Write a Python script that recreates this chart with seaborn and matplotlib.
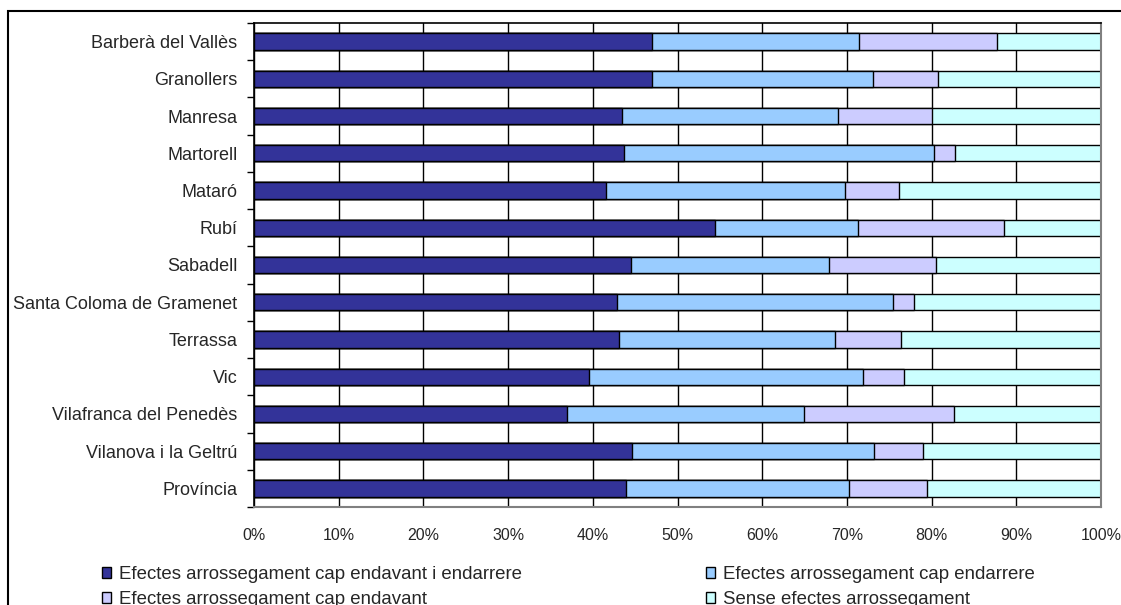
import matplotlib
matplotlib.use("Agg")
import matplotlib.pyplot as plt
from matplotlib.patches import Patch, Rectangle
from matplotlib.ticker import FixedLocator, PercentFormatter
import numpy as np
import pandas as pd
import seaborn as sns

# categories (top to bottom)
municipis = [
    "Barberà del Vallès", "Granollers", "Manresa", "Martorell", "Mataró",
    "Rubí", "Sabadell", "Santa Coloma de Gramenet", "Terrassa", "Vic",
    "Vilafranca del Penedès", "Vilanova i la Geltrú", "Província",
]

# shares in %
cap_endavant_i_endarrere = [47.0, 47.0, 43.5, 43.7, 41.6, 54.4, 44.5, 42.8, 43.1, 39.6, 36.9, 44.6, 43.9]
cap_endarrere = [24.4, 26.1, 25.5, 36.6, 28.2, 16.9, 23.4, 32.6, 25.5, 32.3, 28.0, 28.6, 26.4]
cap_endavant = [16.3, 7.7, 11.0, 2.5, 6.4, 17.2, 12.6, 2.5, 7.8, 4.9, 17.7, 5.8, 9.1]
sense_efectes = [12.3, 19.2, 20.0, 17.2, 23.8, 11.5, 19.5, 22.1, 23.6, 23.2, 17.4, 21.0, 20.6]

series_labels = [
    "Efectes arrossegament cap endavant i endarrere",
    "Efectes arrossegament cap endarrere",
    "Efectes arrossegament cap endavant",
    "Sense efectes arrossegament",
]
series_colors = ["#333399", "#99CCFF", "#CCCCFF", "#CCFFFF"]

sns.set_style("white")
plt.rcParams["font.family"] = ["Liberation Sans", "DejaVu Sans"]

df = pd.DataFrame({
    "municipi": municipis,
    series_labels[0]: cap_endavant_i_endarrere,
    series_labels[1]: cap_endarrere,
    series_labels[2]: cap_endavant,
    series_labels[3]: sense_efectes,
})
shares = df[series_labels]
shares = shares.div(shares.sum(axis=1), axis=0) * 100
cum = shares.cumsum(axis=1)

W, H = 1121, 605
fig = plt.figure(figsize=(W / 100, H / 100), dpi=100)
ax = fig.add_axes([254 / W, 1 - 507 / H, 847 / W, 484 / H])

# stacked bars: draw cumulative totals from the longest down
for label, color in reversed(list(zip(series_labels, series_colors))):
    sns.barplot(x=cum[label].values, y=df["municipi"], orient="h", color=color,
                saturation=1, edgecolor="black", linewidth=1, width=0.44, ax=ax)

n = len(municipis)
ax.set_xlim(0, 100)
ax.set_ylim(n - 0.5, -0.5)
ax.set_xlabel("")
ax.set_ylabel("")

ax.xaxis.set_major_locator(FixedLocator(np.arange(0, 101, 10)))
ax.xaxis.set_major_formatter(PercentFormatter(decimals=0))
ax.tick_params(axis="x", length=0, pad=15, labelsize=11.5)
ax.grid(axis="x", color="black", linewidth=1)
ax.set_axisbelow(True)

ax.yaxis.set_minor_locator(FixedLocator(np.arange(-0.5, n, 1)))
ax.tick_params(axis="y", which="major", length=0, pad=12, labelsize=13)
ax.tick_params(axis="y", which="minor", length=5, width=1, color="black", left=True)

for side in ["left", "top"]:
    ax.spines[side].set_color("black")
    ax.spines[side].set_linewidth(1.2)
for side in ["right", "bottom"]:
    ax.spines[side].set_color("#808080")
    ax.spines[side].set_linewidth(1.5)
for side in ax.spines:
    ax.spines[side].set_visible(True)

# legends: two columns at the bottom
def handles(idx):
    return [Patch(facecolor=series_colors[i], edgecolor="black", linewidth=1, label=series_labels[i])
            for i in idx]

leg_kw = dict(loc="upper left", frameon=False, fontsize=13.4, handlelength=0.5,
              handleheight=0.5, handletextpad=0.4, labelspacing=0.45,
              borderpad=0, borderaxespad=0)
fig.legend(handles=handles([0, 2]), bbox_to_anchor=(102 / W, 1 - 566 / H), **leg_kw)
fig.legend(handles=handles([1, 3]), bbox_to_anchor=(706 / W, 1 - 566 / H), **leg_kw)

# outer chart border (extends past the right and bottom edges)
fig.patches.append(Rectangle((8 / W, -0.2), 1.2, 1.2 - 11 / H, transform=fig.transFigure,
                             fill=False, edgecolor="black", linewidth=1.5))

fig.savefig("out.png", dpi=100)
